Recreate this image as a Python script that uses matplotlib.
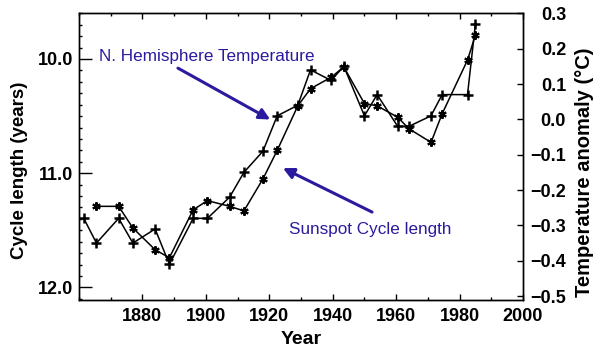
import matplotlib
matplotlib.use("Agg")
import matplotlib.pyplot as plt
from matplotlib.ticker import MultipleLocator, FixedLocator

plt.rcParams['font.family'] = ['Liberation Sans', 'DejaVu Sans']

# Northern Hemisphere temperature anomaly (right axis, °C)
temp_years = [1861.5, 1865.5, 1872.5, 1877, 1884, 1888.5, 1896, 1900.5, 1907.5, 1912,
              1918, 1922.5, 1929, 1933, 1939.5, 1943.5, 1950, 1954, 1960.5, 1964,
              1971, 1974.5, 1982.5, 1985]
temp_vals = [-0.28, -0.35, -0.28, -0.35, -0.31, -0.41, -0.28, -0.28, -0.22, -0.15,
             -0.09, 0.01, 0.04, 0.14, 0.11, 0.15, 0.01, 0.07, -0.02, -0.02,
             0.01, 0.07, 0.07, 0.27]

# Sunspot cycle length (left axis, years)
cycle_years = [1865.5, 1872.5, 1877, 1884, 1888.5, 1896, 1900.5, 1907.5, 1912,
               1918, 1922.5, 1929, 1933, 1939.5, 1943.5, 1950, 1954, 1960.5, 1964,
               1971, 1974.5, 1982.5, 1985]
cycle_vals = [11.29, 11.29, 11.48, 11.67, 11.74, 11.32, 11.24, 11.29, 11.33,
              11.05, 10.80, 10.41, 10.26, 10.16, 10.07, 10.39, 10.41, 10.51, 10.61,
              10.73, 10.48, 10.01, 9.79]

x_ticks = [1880, 1900, 1920, 1940, 1960, 1980, 2000]
left_ticks = [10.0, 11.0, 12.0]
right_ticks = [0.3, 0.2, 0.1, 0.0, -0.1, -0.2, -0.3, -0.4, -0.5]

blue = '#2a1a9e'

fig = plt.figure(figsize=(6, 3.62), dpi=100)
ax = fig.add_axes([79/600, 62/362, 444/600, 286.7/362])
ax2 = ax.twinx()

ax.plot(cycle_years, cycle_vals, color='black', lw=1.1,
        marker=(6, 2, 0), ms=6, mew=1.5, zorder=3)
ax2.plot(temp_years, temp_vals, color='black', lw=1.1,
         marker='+', ms=7, mew=1.8, zorder=3)

ax.set_xlim(1860, 2000)
ax.set_ylim(12.11, 9.6)
ax2.set_ylim(-0.511, 0.3)

ax.xaxis.set_major_locator(FixedLocator(x_ticks))
ax.xaxis.set_minor_locator(MultipleLocator(10))
ax.yaxis.set_major_locator(FixedLocator(left_ticks))
ax.yaxis.set_minor_locator(MultipleLocator(0.1))
ax2.yaxis.set_major_locator(FixedLocator(right_ticks))

ax.set_xticklabels([str(v) for v in x_ticks], fontweight='bold', fontsize=13)
ax.set_yticklabels([f"{v:.1f}" for v in left_ticks], fontweight='bold', fontsize=13)
ax2.set_yticklabels([f"{v:.1f}".replace('-', '\u2212') for v in right_ticks],
                    fontweight='bold', fontsize=13)
for lab in ax2.get_yticklabels():
    lab.set_horizontalalignment('right')

ax.tick_params(axis='x', which='major', direction='in', length=4.5, width=1,
               top=True, pad=6)
ax.tick_params(axis='x', which='minor', direction='in', length=2, width=1, top=True)
ax.tick_params(axis='y', which='major', direction='in', length=9, width=1, pad=4,
               right=False)
ax.tick_params(axis='y', which='minor', direction='in', length=2.5, width=1, right=False)
ax2.tick_params(axis='y', which='major', direction='in', length=4, width=1, pad=31)

for a in (ax, ax2):
    for s in a.spines.values():
        s.set_linewidth(1.0)

ax.set_xlabel('Year', fontweight='bold', fontsize=14, labelpad=4)
ax.set_ylabel('Cycle length (years)', fontweight='bold', fontsize=13.5)
ax2.set_ylabel('Temperature anomaly (°C)', fontweight='bold', fontsize=14.5,
               rotation=90, va='center')
ax.yaxis.set_label_coords(-0.115, 0.453)
ax2.yaxis.set_label_coords(1.1385, 0.446)

ax.text(1866.4, 10.02, 'N. Hemisphere Temperature', color=blue, fontsize=12.3,
        va='baseline', ha='left', zorder=5)
ax.text(1926.3, 11.53, 'Sunspot Cycle length', color=blue, fontsize=12.3,
        va='baseline', ha='left', zorder=5)

arrow_kw = dict(arrowstyle='-|>', color=blue, lw=2.2, mutation_scale=16,
                shrinkA=0, shrinkB=0)
ax.annotate('', xy=(1920.3, 10.53), xytext=(1891.2, 10.08), arrowprops=arrow_kw, zorder=5)
ax.annotate('', xy=(1924.3, 10.955), xytext=(1952.4, 11.34), arrowprops=arrow_kw, zorder=5)

fig.savefig('out.png', dpi=100, facecolor='white')
